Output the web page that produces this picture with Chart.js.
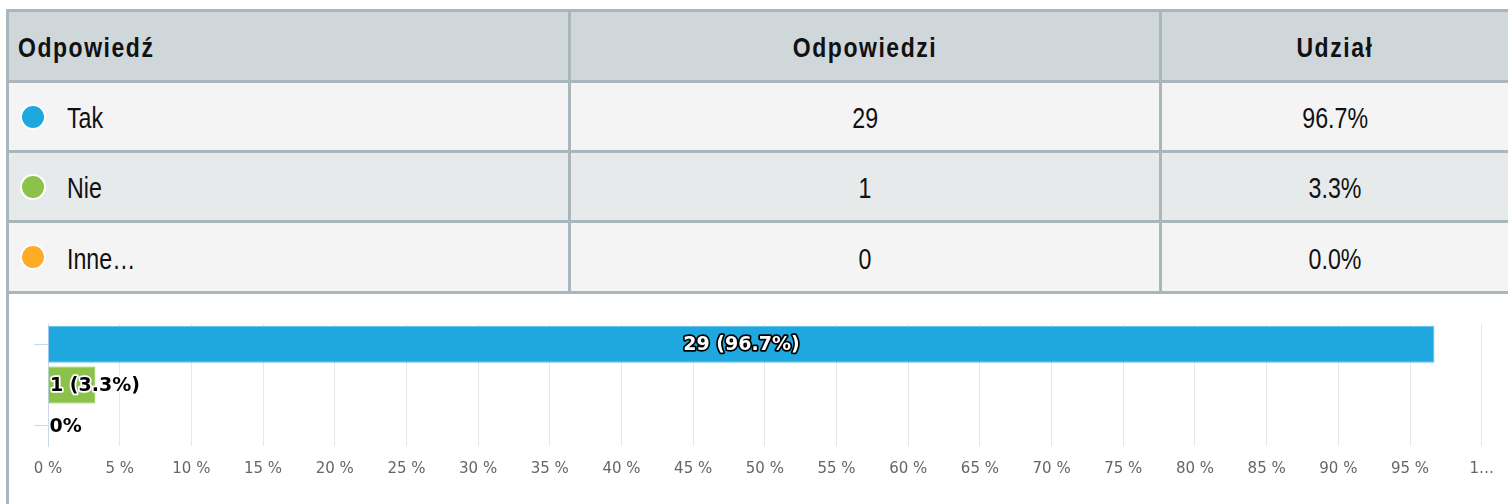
<!DOCTYPE html>
<html>
<head>
<meta charset="utf-8">
<script src="https://cdn.jsdelivr.net/npm/chart.js@4.4.0/dist/chart.umd.min.js"></script>
<style>
  html, body { margin: 0; padding: 0; background: #fff; overflow: hidden; width: 1508px; height: 504px; }
  .box { position: absolute; left: 6px; top: 9px; width: 1520px; height: 520px;
         border: 3px solid #a9b6bc; box-sizing: border-box; }
  .row { display: flex; border-bottom: 3px solid #a9b6bc; box-sizing: content-box; }
  .cell { display: flex; align-items: center; box-sizing: border-box;
          font-family: "Liberation Sans", Arial, sans-serif;
          font-size: 29px; color: #111; }
  .t { display: inline-block; transform: scaleX(0.8); white-space: nowrap; line-height: 1; padding-top: 4px; }
  .c1 .t { transform-origin: left center; }
  .c2 .t, .c3 .t { transform-origin: center center; }
  .c1 { width: 562px; border-right: 3px solid #a9b6bc; padding-left: 9px; }
  .c2 { width: 591px; border-right: 3px solid #a9b6bc; justify-content: center; }
  .c3 { width: 346px; justify-content: center; }
  .head .cell { font-weight: bold; letter-spacing: 1.9px; font-size: 28px; }
  .head .t { transform: scaleX(0.82); padding-top: 3px; }
  .head { background: #cfd7db; height: 68px; }
  .r1, .r3 { background: #f4f4f4; }
  .r2 { background: #e7eaeb; }
  .dot { width: 22px; height: 22px; border-radius: 50%; border: 2px solid #fff; margin-left: 2px; margin-right: 21px; flex: none; }
  #chartWrap { position: absolute; left: 9px; top: 294px; width: 1499px; height: 210px; }
</style>
</head>
<body>
<div class="box">
  <div class="row head">
    <div class="cell c1"><span class="t" id="h1"></span></div>
    <div class="cell c2"><span class="t" id="h2"></span></div>
    <div class="cell c3"><span class="t" id="h3"></span></div>
  </div>
  <div id="rows"></div>
</div>
<div id="chartWrap"><canvas id="chart" width="1499" height="210"></canvas></div>
<script>
const headers = ["Odpowiedź", "Odpowiedzi", "Udział"];
const categories = ["Tak", "Nie", "Inne..."];
const counts = [29, 1, 0];
const shares = [96.7, 3.3, 0.0];
const colors = ["#1fa8df", "#8bc34a", "#ffab26"];
const borderColors = ["#5cc0ea", "#8bc34a", "#ffab26"];
const tickLabels = ["0 %", "5 %", "10 %", "15 %", "20 %", "25 %", "30 %", "35 %", "40 %", "45 %", "50 %",
  "55 %", "60 %", "65 %", "70 %", "75 %", "80 %", "85 %", "90 %", "95 %", "1…"];

document.getElementById('h1').textContent = headers[0];
document.getElementById('h2').textContent = headers[1];
document.getElementById('h3').textContent = headers[2];
const rowHeights = [67, 67, 68];
const rowsEl = document.getElementById('rows');
function span(txt) { const s = document.createElement('span'); s.className = 't'; s.textContent = txt; return s; }
categories.forEach((c, i) => {
  const r = document.createElement('div');
  r.className = 'row r' + (i + 1);
  r.style.height = rowHeights[i] + 'px';
  const c1 = document.createElement('div'); c1.className = 'cell c1';
  const d = document.createElement('span'); d.className = 'dot'; d.style.background = colors[i];
  c1.appendChild(d);
  c1.appendChild(span(c === "Inne..." ? "Inne…" : c));
  const c2 = document.createElement('div'); c2.className = 'cell c2'; c2.appendChild(span(String(counts[i])));
  const c3 = document.createElement('div'); c3.className = 'cell c3'; c3.appendChild(span(shares[i].toFixed(1) + '%'));
  r.appendChild(c1); r.appendChild(c2); r.appendChild(c3);
  rowsEl.appendChild(r);
});

const labelPlugin = {
  id: 'barLabels',
  afterDatasetsDraw(chart) {
    const ctx = chart.ctx;
    const meta = chart.getDatasetMeta(0);
    ctx.save();
    ctx.font = 'bold 19px "DejaVu Sans"';
    ctx.textBaseline = 'middle';
    ctx.lineJoin = 'round';
    ctx.lineWidth = 3.5;
    meta.data.forEach((bar, i) => {
      const text = counts[i] > 0 ? `${counts[i]} (${shares[i].toFixed(1)}%)` : '0%';
      const w = ctx.measureText(text).width;
      const left = Math.min(bar.base, bar.x);
      const bw = Math.abs(bar.x - bar.base);
      let x, fill, stroke;
      if (w + 10 < bw) {
        ctx.textAlign = 'center';
        x = left + bw / 2; fill = '#fff'; stroke = '#000';
      } else {
        ctx.textAlign = 'left';
        x = left + 1.5; fill = '#000'; stroke = '#fff';
      }
      ctx.strokeStyle = stroke;
      ctx.strokeText(text, x, bar.y + 1);
      ctx.fillStyle = fill;
      ctx.fillText(text, x, bar.y + 1);
    });
    ctx.restore();
  }
};

new Chart(document.getElementById('chart'), {
  type: 'bar',
  data: {
    labels: categories,
    datasets: [{
      data: shares,
      backgroundColor: colors,
      borderColor: borderColors,
      borderWidth: 1,
      barPercentage: 0.91,
      categoryPercentage: 1.0
    }]
  },
  options: {
    indexAxis: 'y',
    responsive: false,
    animation: false,
    devicePixelRatio: 1,
    layout: { padding: { left: 25, right: 24, top: 30, bottom: 12 } },
    plugins: { legend: { display: false }, tooltip: { enabled: false } },
    scales: {
      x: {
        min: 0, max: 100,
        ticks: {
          stepSize: 5,
          padding: 14,
          color: '#666',
          font: { family: '"DejaVu Sans"', size: 15 },
          maxRotation: 0,
          autoSkip: false,
          callback: (v, i) => tickLabels[i]
        },
        grid: { color: '#e6e6e6', drawTicks: false },
        border: { display: false }
      },
      y: {
        ticks: { display: false },
        grid: {
          drawOnChartArea: false,
          offset: false,
          tickLength: 14,
          color: (c) => c.index === 1 ? 'rgba(0,0,0,0)' : '#c9d6ee'
        },
        border: { display: true, color: '#c9d6ee' }
      }
    }
  },
  plugins: [labelPlugin]
});
</script>
</body>
</html>
